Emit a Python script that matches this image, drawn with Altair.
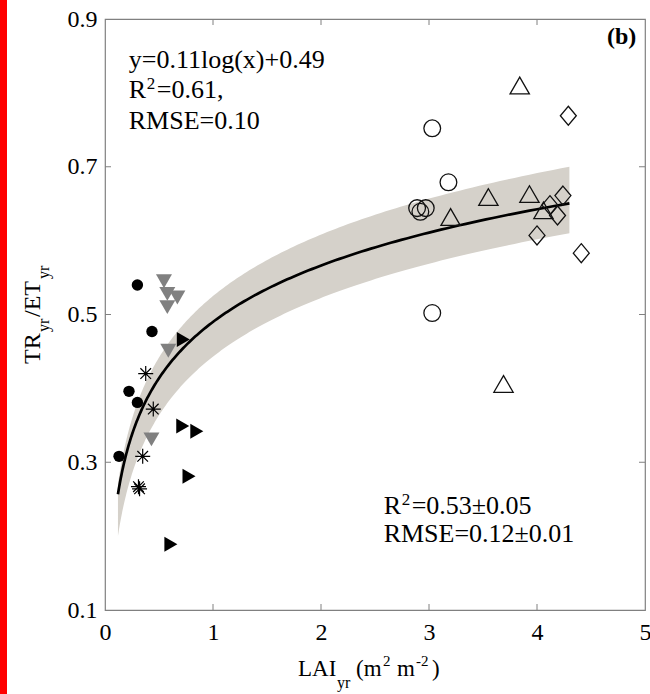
import altair as alt
import pandas as pd
import numpy as np

# ---------------- data ----------------
circ_filled_x = [0.30, 0.435, 0.222, 0.30, 0.13]
circ_filled_y = [0.540, 0.477, 0.396, 0.381, 0.308]

tri_down_x = [0.546, 0.577, 0.67, 0.577, 0.586, 0.43]
tri_down_y = [0.545, 0.528, 0.523, 0.510, 0.451, 0.331]

star_x = [0.377, 0.447, 0.349, 0.31, 0.32]
star_y = [0.420, 0.372, 0.308, 0.267, 0.264]

tri_right_x = [0.725, 0.72, 0.85, 0.778, 0.61]
tri_right_y = [0.466, 0.349, 0.342, 0.281, 0.189]

circ_open_x = [3.03, 3.18, 2.89, 2.92, 2.97, 3.03]
circ_open_y = [0.752, 0.679, 0.644, 0.639, 0.644, 0.502]

tri_up_x = [3.84, 3.55, 3.93, 3.20, 4.06, 3.69]
tri_up_y = [0.810, 0.659, 0.663, 0.632, 0.641, 0.406]

diam_x = [4.29, 4.24, 4.19, 4.00, 4.41, 4.12]
diam_y = [0.769, 0.661, 0.634, 0.607, 0.583, 0.648]

# fitted curve y = a*ln(x) + b and envelope of the bootstrap fits
fit_a, fit_b = 0.11, 0.49
band_upper = (0.120, 0.525)
band_lower = (0.1145, 0.443)
fit_xmin, fit_xmax = 0.12, 4.3

x_ticks = [0, 1, 2, 3, 4, 5]
y_ticks = [0.1, 0.3, 0.5, 0.7, 0.9]

# ---------------- styling ----------------
FONT = "Liberation Serif"
GRAY = "#808080"
W, H = 540, 591

SX = alt.Scale(domain=[0, 5], nice=False, zero=False)
SY = alt.Scale(domain=[0.1, 0.9], nice=False, zero=False)
AX = alt.Axis(values=x_ticks, format="d", ticks=False, tickSize=0, domain=False,
              grid=False, labelFontSize=24, labelFont=FONT, labelColor="black",
              labelPadding=10, labelOverlap=False, labelFlush=False, title=None)
AY = alt.Axis(values=y_ticks, format=".1f", ticks=False, tickSize=0, domain=False,
              grid=False, labelFontSize=24, labelFont=FONT, labelColor="black",
              labelPadding=8, labelOverlap=False, labelFlush=False, title=None)


def X(f="x"):
    return alt.X(f, type="quantitative", scale=SX, axis=AX, title=None)


def Y(f="y"):
    return alt.Y(f, type="quantitative", scale=SY, axis=AY, title=None)


def pts(xs, ys, **mk):
    return alt.Chart(pd.DataFrame({"x": xs, "y": ys})).mark_point(**mk).encode(x=X(), y=Y())


# curves
xs = np.geomspace(fit_xmin, fit_xmax, 200)
curve_df = pd.DataFrame({
    "x": xs,
    "y": fit_a * np.log(xs) + fit_b,
    "lo": band_lower[0] * np.log(xs) + band_lower[1],
    "hi": band_upper[0] * np.log(xs) + band_upper[1],
})

band = alt.Chart(curve_df).mark_area(color="#d5d1ca", opacity=1).encode(
    x=X(), y=Y("lo"), y2="hi")
line = alt.Chart(curve_df).mark_line(color="black", strokeWidth=2.7).encode(x=X(), y=Y())

# inward ticks
inner_x = pd.DataFrame({"x": [1, 2, 3, 4]})
inner_y = pd.DataFrame({"y": [0.3, 0.5, 0.7]})
tb = alt.Chart(inner_x).mark_rule(color=GRAY, strokeWidth=1).encode(
    x=X(), y=alt.value(H), y2=alt.value(H - 6))
tt = alt.Chart(inner_x).mark_rule(color=GRAY, strokeWidth=1).encode(
    x=X(), y=alt.value(0), y2=alt.value(6))
tl = alt.Chart(inner_y).mark_rule(color=GRAY, strokeWidth=1).encode(
    y=Y(), x=alt.value(0), x2=alt.value(6))
tr = alt.Chart(inner_y).mark_rule(color=GRAY, strokeWidth=1).encode(
    y=Y(), x=alt.value(W), x2=alt.value(W - 6))

STAR = "M-1,0L1,0M0,-1L0,1M-0.71,-0.71L0.71,0.71M-0.71,0.71L0.71,-0.71"
DIAM = "M0,-1L0.84,0L0,1L-0.84,0Z"

m_circ = pts(circ_filled_x, circ_filled_y, shape="circle", filled=True, color="black",
             size=130, opacity=1)
m_tdown = pts(tri_down_x, tri_down_y, shape="triangle-down", filled=True, color=GRAY,
              size=256, opacity=1)
m_star = pts(star_x, star_y, shape=STAR, filled=False, color="black", size=225,
             strokeWidth=1.2, opacity=1)
m_tright = pts(tri_right_x, tri_right_y, shape="triangle-right", filled=True,
               color="black", size=225, opacity=1)
m_ocirc = pts(circ_open_x, circ_open_y, shape="circle", filled=False, color="#111111",
              size=280, strokeWidth=1.3, opacity=1)
m_tup = pts(tri_up_x, tri_up_y, shape="triangle-up", filled=False, color="#111111",
            size=372, strokeWidth=1.3, opacity=1)
m_diam = pts(diam_x, diam_y, shape=DIAM, filled=False, color="#111111", size=361,
             strokeWidth=1.3, opacity=1)


# text helpers
def tdata(text, x, y, size=26, weight="normal", align="left", angle=0):
    return alt.Chart(pd.DataFrame({"t": [text], "x": [x], "y": [y]})).mark_text(
        font=FONT, fontSize=size, fontWeight=weight, align=align, baseline="alphabetic",
        angle=angle, color="black").encode(x=X(), y=Y(), text="t:N")


def tpix(text, px, py, size=23, weight="normal", align="left", angle=0):
    return alt.Chart(pd.DataFrame({"t": [text]})).mark_text(
        font=FONT, fontSize=size, fontWeight=weight, align=align, baseline="alphabetic",
        angle=angle, color="black").encode(x=alt.value(px), y=alt.value(py), text="t:N")


def tdx(text, x, y, dx, dy=0, size=26):
    return alt.Chart(pd.DataFrame({"t": [text], "x": [x], "y": [y]})).mark_text(
        font=FONT, fontSize=size, align="left", baseline="alphabetic", dx=dx, dy=dy,
        color="black").encode(x=X(), y=Y(), text="t:N")


ann = [
    tdata("y=0.11log(x)+0.49", 0.22, 0.833),
    tdx("R", 0.22, 0.793, 0),
    tdx("2", 0.22, 0.793, 18, -9, size=17),
    tdx("=0.61,", 0.22, 0.793, 28),
    tdata("RMSE=0.10", 0.22, 0.751),
    tdata("(b)", 4.92, 0.866, size=24, weight="bold", align="right"),
    tdx("R", 2.58, 0.23, 0),
    tdx("2", 2.58, 0.23, 18, -9, size=17),
    tdx("=0.53\u00b10.05", 2.58, 0.23, 28),
    tdata("RMSE=0.12\u00b10.01", 2.58, 0.192),
]

# axis titles (composed for sub/superscripts)
titles = [
    tpix("LAI", 193, 657, 23),
    tpix("yr", 232, 669, 16),
    tpix("(m", 251, 657, 23),
    tpix("2", 278, 647, 15),
    tpix("m", 292, 657, 23),
    tpix("-2", 311, 647, 15),
    tpix(")", 327, 657, 23),
    tpix("TR", -65, 345, 24, angle=270),
    tpix("yr", -56, 313, 16, angle=270),
    tpix("/ET", -65, 298, 24, angle=270),
    tpix("yr", -56, 260, 16, angle=270),
]

red = alt.Chart(pd.DataFrame({"k": [0]})).mark_rect(color="#ff0000").encode(
    x=alt.value(-105), x2=alt.value(-98), y=alt.value(-19), y2=alt.value(675))

chart = alt.layer(
    band, line, tb, tt, tl, tr,
    m_circ, m_tdown, m_star, m_tright, m_ocirc, m_tup, m_diam,
    *ann, *titles, red,
).properties(
    width=W, height=H,
    padding={"left": 105, "top": 19, "right": 5, "bottom": 84},
    autosize=alt.AutoSizeParams(type="none"),
    background="white",
).configure_view(stroke=GRAY, strokeWidth=1.2)

chart.save("out.html", embed_options={"renderer": "svg", "actions": False})
